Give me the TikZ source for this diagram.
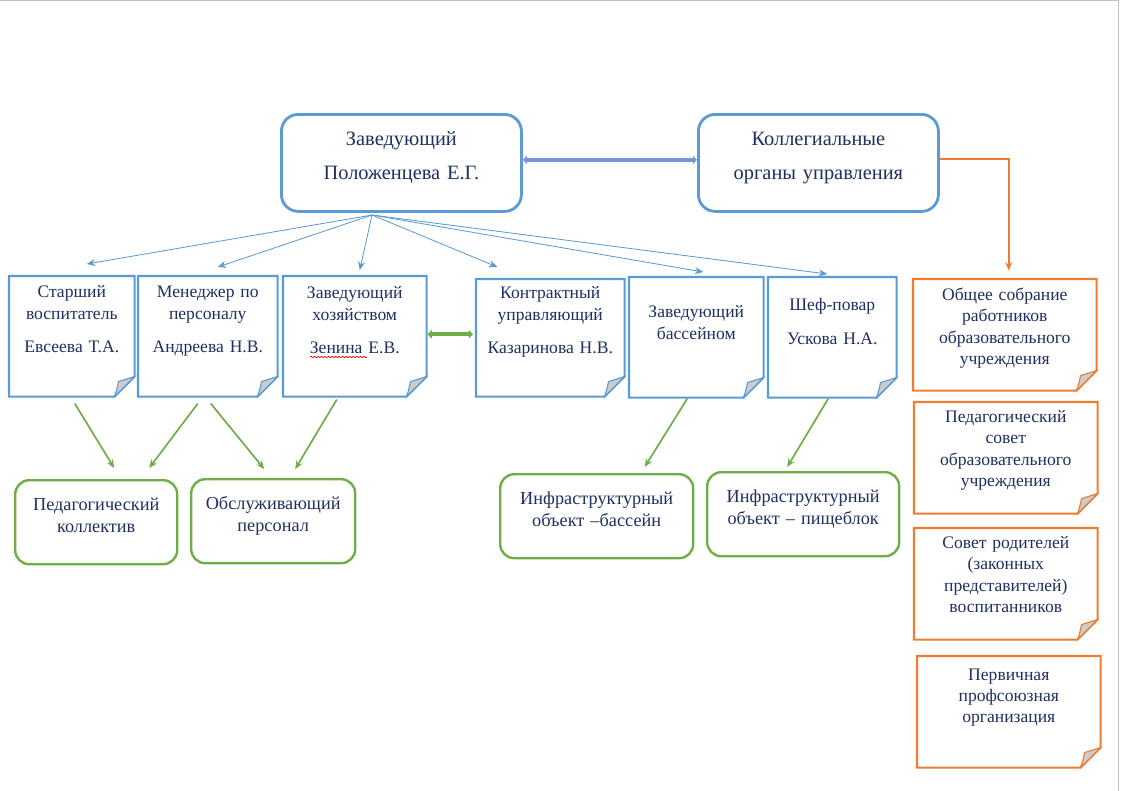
\documentclass[tikz,border=0pt]{standalone}
\usepackage{fontspec}
\setmainfont{Liberation Serif}
\usetikzlibrary{positioning, calc, arrows.meta, decorations.pathmorphing}
\definecolor{orgblue}{HTML}{5B9BD5}
\definecolor{orggreen}{HTML}{70AD47}
\definecolor{orgorange}{HTML}{ED7D31}
\definecolor{orgtext}{HTML}{1F2F5F}
\definecolor{orgfold}{HTML}{CCCCCC}
\definecolor{orglink}{HTML}{7896D4}
\definecolor{pageedge}{HTML}{C0C0C0}
\newcommand{\pxu}{0.025cm}
\tikzset{fantip/.tip={Stealth[length=6pt, width=5pt]}}
\tikzset{fattip/.tip={Triangle[length=3pt, width=6pt]}}

\begin{document}
\begin{tikzpicture}[
    x=0.025cm, y=-0.025cm,
    every node/.style={
        text = orgtext,
        align = center,
        inner sep = 0pt,
        anchor = north west,
        text height = 8.5pt
    },
    headbox/.style={
        draw = orgblue,
        line width = 2pt,
        rounded corners = 12pt,
        text width = 240*\pxu,
        minimum height = 97*\pxu,
        text height = 10pt,
        text depth = 35pt,
        font = \fontsize{14.5}{24}\selectfont
    },
    notebox/.style={
        minimum height = 120*\pxu,
        font = \fontsize{12.5}{15.5}\selectfont
    },
    sidebox/.style={
        text width = 183*\pxu,
        minimum height = 111*\pxu,
        font = \fontsize{12.5}{15.2}\selectfont
    },
    unitbox/.style={
        draw = orggreen,
        line width = 1.7pt,
        rounded corners = 10pt,
        minimum height = 84*\pxu,
        text depth = 25.6pt,
        font = \fontsize{13}{16}\selectfont
    },
    fanarrow/.style={-fantip, draw = orgblue, line width = 0.6pt},
    subarrow/.style={-fantip, draw = orggreen, line width = 1.2pt},
    >={Stealth[round]}
]

\useasboundingbox (0,0) rectangle (1121,791);

% page edge
\draw[pageedge, line width = 1pt] (0,0.5) -- (1118.5,0.5) -- (1118.5,791);

% head and councils
\node[headbox] (head) at (280,113) {Заведующий\\Положенцева Е.Г.};
\node[headbox] (council) at (697,113) {Коллегиальные\\органы управления};

% staff
\node[notebox, text width = 125*\pxu, text depth = 64pt] (senior) at (9,276) {Старший\\воспитатель\\[8.6pt]Евсеева Т.А.};
\node[notebox, text width = 139*\pxu, text depth = 64pt] (hr) at (138,276) {Менеджер по\\персоналу\\[8.6pt]Андреева Н.В.};
\node[notebox, text width = 143*\pxu, text depth = 62.6pt] (house) at (283,276) {Заведующий\\хозяйством\\[8.6pt]Зенина Е.В.};
\node[notebox, text width = 148*\pxu, minimum height = 117*\pxu, text depth = 64.7pt] (contract) at (476,279) {Контрактный\\управляющий\\[8.6pt]Казаринова Н.В.};
\node[notebox, text width = 134*\pxu, text depth = 36.9pt] (pool) at (629,277) {Заведующий\\бассейном};
\node[notebox, text width = 128*\pxu, text depth = 46.9pt] (chef) at (768,277) {Шеф-повар\\[8.6pt]Ускова Н.А.};

% councils list
\node[sidebox, text depth = 57.5pt] (meeting) at (913,279) {Общее собрание\\работников\\образовательного\\учреждения};
\node[sidebox, text depth = 58.9pt] (board) at (914,402) {Педагогический\\совет\\образовательного\\учреждения};
\node[sidebox, text depth = 58.9pt] (parents) at (914,528) {Совет родителей\\(законных\\представителей)\\воспитанников};
\node[sidebox, text depth = 53.5pt] (union) at (917,656) {Первичная\\профсоюзная\\организация};

% units
\node[unitbox, text width = 162*\pxu] (teachers) at (14,479) {Педагогический\\коллектив};
\node[unitbox, text width = 164*\pxu] (service) at (190,478) {Обслуживающий\\персонал};
\node[unitbox, text width = 193*\pxu] (poolobj) at (499,473) {Инфраструктурный\\объект –бассейн};
\node[unitbox, text width = 192*\pxu] (kitchen) at (706,471) {Инфраструктурный\\объект – пищеблок};

% folded notes
\foreach \n/\c in {senior/orgblue, hr/orgblue, house/orgblue, contract/orgblue, pool/orgblue, chef/orgblue,
                   meeting/orgorange, board/orgorange, parents/orgorange, union/orgorange}
{
    \draw[\c, line width = 1.5pt, line join = miter]
        (\n.north west) -- (\n.north east) -- ([shift={(0,-20)}]\n.south east)
        -- ([shift={(-20,0)}]\n.south east) -- (\n.south west) -- cycle;
    \filldraw[fill = orgfold, draw = \c, line width = 0.8pt]
        ([shift={(0,-20)}]\n.south east) -- ([shift={(-20,0)}]\n.south east)
        .. controls ([shift={(-18,-6)}]\n.south east) .. ([shift={(-16,-15)}]\n.south east)
        -- cycle;
}

% spelling mark
\draw[red, line width = 0.5pt, decorate, decoration={snake, amplitude = 0.5pt, segment length = 2.5pt}]
    ([shift={(27,81)}]house.north west) -- ([shift={(84,81)}]house.north west);

% lines
\draw[orglink, line width = 2.8pt, fattip-fattip] ([shift={(0,-3)}]head.east) -- ([shift={(0,-3)}]council.west);
\draw[orggreen, line width = 2.8pt, fattip-fattip] ([shift={(1,-2)}]house.east) -- ([shift={(-3,-3.5)}]contract.west);
\draw[orgorange, line width = 1.3pt, -fantip, shorten >= 6pt] ([shift={(0,-4)}]council.east) -| ([shift={(4,0)}]meeting.north);

\coordinate (fan) at (372,215);
\foreach \n/\dx/\dy in {senior/15/-12, hr/10/-9, house/5/-6, contract/-53/-12, pool/7/-5, chef/-5/-3}
    \draw[fanarrow] (fan) -- ([shift={(\dx,\dy)}]\n.north);

\foreach \a/\ax/\ay/\b/\bx/\by in {senior/3/7/teachers/18/-11, hr/-10/7/teachers/53/-11,
                                   hr/3/7/service/-9/-9, house/-18/3/service/22/-9,
                                   pool/-9/1/poolobj/48/-6, chef/-4/1/kitchen/-16/-4}
    \draw[subarrow] ([shift={(\ax,\ay)}]\a.south) -- ([shift={(\bx,\by)}]\b.north);

\end{tikzpicture}
\end{document}
